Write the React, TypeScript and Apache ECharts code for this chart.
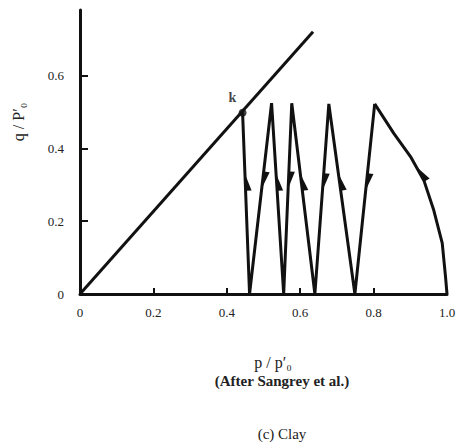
import React, { useEffect, useRef } from "react";
import * as echarts from "echarts";

// p/p'0 , q/p'0
const failureLine: number[][] = [
  [0, 0],
  [0.635, 0.72],
];
const initialLoading: number[][] = [
  [1.0, 0],
  [0.996, 0.047],
  [0.987, 0.14],
  [0.964, 0.23],
  [0.937, 0.312],
  [0.902, 0.375],
  [0.855, 0.441],
  [0.803, 0.522],
];
const cyclicPath: number[][] = [
  [0.803, 0.522],
  [0.749, 0],
  [0.678, 0.522],
  [0.64, 0],
  [0.577, 0.524],
  [0.555, 0],
  [0.522, 0.524],
  [0.462, 0],
  [0.443, 0.498],
];
const pointK: number[] = [0.443, 0.498];
// arrows: [path, segment start index, q at arrow tip]
const arrowSpecs: [string, number, number][] = [
  ["initial", 4, 0.35],
  ["cyclic", 0, 0.285],
  ["cyclic", 1, 0.33],
  ["cyclic", 2, 0.285],
  ["cyclic", 3, 0.33],
  ["cyclic", 4, 0.29],
  ["cyclic", 5, 0.33],
  ["cyclic", 6, 0.29],
  ["cyclic", 7, 0.33],
];
const xTicks = [0, 0.2, 0.4, 0.6, 0.8, 1.0];
const yTicks = [0, 0.2, 0.4, 0.6];

const FONT = "'Liberation Serif', 'DejaVu Serif', serif";
const INK = "#111";

export default function App() {
  const ref = useRef<HTMLDivElement>(null);
  useEffect(() => {
    if (!ref.current) return;
    const chart = echarts.init(ref.current, undefined, { renderer: "svg" });
    const paths: Record<string, number[][]> = { initial: initialLoading, cyclic: cyclicPath };
    const arrowData = arrowSpecs.map(([name, i, q]) => {
      const a = paths[name][i];
      const b = paths[name][i + 1];
      return [a[0], a[1], b[0], b[1], q];
    });
    const fmt = (v: number) => (v === 0 ? "0" : v.toFixed(1));
    chart.setOption({
      animation: false,
      grid: { left: 80, right: 15, top: 10, bottom: 150 },
      xAxis: {
        type: "value",
        min: 0,
        max: 1.0,
        interval: 0.2,
        splitLine: { show: false },
        axisLine: { lineStyle: { color: INK, width: 3 } },
        axisTick: { inside: true, length: 6, lineStyle: { color: INK, width: 2 } },
        axisLabel: {
          color: "#222",
          fontFamily: FONT,
          fontSize: 13,
          margin: 12,
          formatter: (v: number) => (xTicks.some((t) => Math.abs(t - v) < 1e-6) ? fmt(v) : ""),
        },
      },
      yAxis: {
        type: "value",
        min: 0,
        max: 0.78,
        interval: 0.2,
        splitLine: { show: false },
        axisLine: { lineStyle: { color: INK, width: 3 } },
        axisTick: { inside: true, length: 8, lineStyle: { color: INK, width: 2 } },
        axisLabel: {
          color: "#222",
          fontFamily: FONT,
          fontSize: 13,
          margin: 16,
          showMaxLabel: false,
          formatter: (v: number) => (yTicks.some((t) => Math.abs(t - v) < 1e-6) ? fmt(v) : ""),
        },
      },
      series: [
        {
          type: "line",
          data: failureLine,
          showSymbol: false,
          lineStyle: { color: INK, width: 3 },
        },
        {
          type: "line",
          data: initialLoading,
          showSymbol: false,
          lineStyle: { color: INK, width: 3, join: "round" },
        },
        {
          type: "line",
          data: cyclicPath,
          showSymbol: false,
          lineStyle: { color: INK, width: 3, join: "miter" },
        },
        {
          type: "scatter",
          data: [pointK],
          symbol: "circle",
          symbolSize: 8,
          itemStyle: { color: INK },
          label: {
            show: true,
            formatter: "k",
            position: [-10, -18],
            color: INK,
            fontFamily: FONT,
            fontWeight: "bold",
            fontSize: 14,
          },
        },
        {
          type: "custom",
          data: arrowData,
          encode: { x: [0, 2], y: [1, 3] },
          renderItem: (params: any, api: any) => {
            const p1 = api.coord([api.value(0), api.value(1)]);
            const p2 = api.coord([api.value(2), api.value(3)]);
            const y1 = api.value(1);
            const y2 = api.value(3);
            const t = (api.value(4) - y1) / (y2 - y1);
            const tip = [p1[0] + t * (p2[0] - p1[0]), p1[1] + t * (p2[1] - p1[1])];
            let dx = p2[0] - p1[0];
            let dy = p2[1] - p1[1];
            const len = Math.sqrt(dx * dx + dy * dy);
            dx /= len;
            dy /= len;
            const L = 17;
            const W = 6;
            const back = [tip[0] - dx * L, tip[1] - dy * L];
            let nx = -dy;
            let ny = dx;
            if (nx < 0) {
              nx = -nx;
              ny = -ny;
            }
            const barb = [back[0] + nx * W, back[1] + ny * W];
            return {
              type: "polygon",
              shape: { points: [tip, back, barb] },
              style: { fill: INK },
            };
          },
        },
      ],
      graphic: [
        {
          type: "text",
          x: 18,
          y: 122,
          rotation: Math.PI / 2,
          style: {
            text: "q / P′₀",
            font: `16px ${FONT}`,
            fill: "#222",
            align: "center",
            verticalAlign: "middle",
          },
        },
        {
          type: "text",
          x: 273,
          y: 362,
          style: {
            text: "p / p′₀",
            font: `16px ${FONT}`,
            fill: "#222",
            align: "center",
            verticalAlign: "middle",
          },
        },
        {
          type: "text",
          x: 282,
          y: 381,
          style: {
            text: "(After Sangrey et al.)",
            font: `bold 15px ${FONT}`,
            fill: "#222",
            align: "center",
            verticalAlign: "middle",
          },
        },
        {
          type: "text",
          x: 282,
          y: 434,
          style: {
            text: "(c) Clay",
            font: `15px ${FONT}`,
            fill: "#222",
            align: "center",
            verticalAlign: "middle",
          },
        },
      ],
    });
    return () => chart.dispose();
  }, []);
  return (
    <div
      ref={ref}
      style={{ position: "absolute", left: 0, top: 0, width: 462, height: 444 }}
    />
  );
}
